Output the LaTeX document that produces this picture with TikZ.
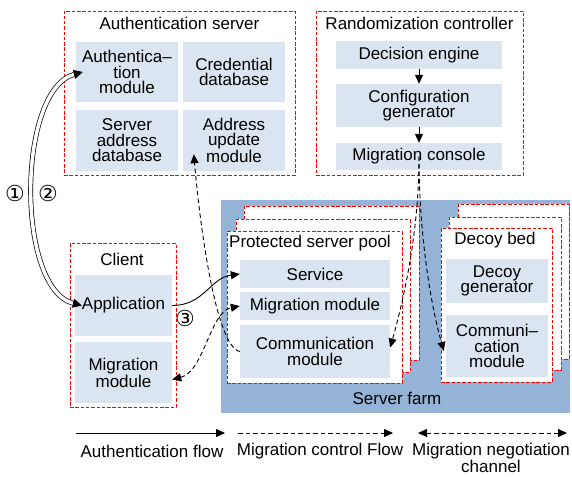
\documentclass[tikz,border=0pt]{standalone}
\usepackage{fontspec}
\setmainfont{Liberation Sans}
\newfontfamily\symfont{DejaVu Sans}
\usetikzlibrary{arrows.meta}
\definecolor{farmblue}{RGB}{149,179,215}
\definecolor{modfill}{RGB}{219,229,241}
\definecolor{grpred}{RGB}{255,0,0}
\begin{document}
\begin{tikzpicture}[x=1pt,y=-1pt,
  txt/.style={font=\fontsize{17}{15.5}\selectfont, align=center, inner sep=0pt},
  grp/.style={draw=grpred, dash pattern=on 3.5pt off 1.8pt, line width=0.9pt, fill=white, inner sep=0pt},
  mod/.style={txt, fill=modfill},
  sym/.style={font=\symfont\fontsize{22}{22}\selectfont, inner sep=0pt},
  tip/.style={-{Triangle[length=9pt,width=8pt]}},
  flow/.style={line width=0.9pt, tip},
  ctl/.style={flow, dash pattern=on 4.5pt off 3pt},
  dbl/.style={double=white, double distance=3.5pt, line width=0.7pt,
    {Triangle[length=9pt,width=9pt]}-{Triangle[length=9pt,width=9pt]}}
]
\useasboundingbox (0,0) rectangle (572,476);

% Authentication server
\node[grp, minimum width=231pt, minimum height=164pt] (authsrv) at (179.5,93) {};
\node[txt] (authsrvt) at (179.5,23) {Authentication server};
\node[mod, minimum width=102pt, minimum height=60pt] (authmod) at (127,72) {Authentica–\\tion\\module};
\node[mod, minimum width=102pt, minimum height=60pt] (creddb) at (234,72) {Credential\\database};
\node[mod, minimum width=102pt, minimum height=61pt] (srvaddr) at (127,140.5) {Server\\address\\database};
\node[mod, minimum width=102pt, minimum height=61pt] (addrupd) at (234,140.5) {Address\\update\\module};

% Randomization controller
\node[grp, minimum width=207pt, minimum height=164pt] (randctl) at (419.5,93) {};
\node[txt] (randctlt) at (419.5,23) {Randomization controller};
\node[mod, minimum width=166pt, minimum height=28pt] (decision) at (419,55) {Decision engine};
\node[mod, minimum width=166pt, minimum height=43pt] (config) at (419,105.5) {Configuration\\generator};
\node[mod, minimum width=166pt, minimum height=27pt] (console) at (419,156.5) {Migration console};
\draw[flow] (decision) -- (config);
\draw[flow] (config) -- (console);

% Server farm
\node[fill=farmblue, inner sep=0pt, minimum width=349pt, minimum height=213pt] (farm) at (395.5,306.5) {};
\node[txt] (farmt) at (397,398) {Server farm};

% Protected server pool
\node[grp, minimum width=175pt, minimum height=154pt] (poolb3) at (331.5,283) {};
\node[grp, minimum width=174pt, minimum height=153pt] (poolb2) at (323,295.5) {};
\node[grp, minimum width=175pt, minimum height=152pt] (pool) at (314.5,307) {};
\node[txt, anchor=west] (poolt) at (229,243) {Protected server pool};
\node[mod, minimum width=150pt, minimum height=28pt] (service) at (315,274) {Service};
\node[mod, minimum width=150pt, minimum height=28pt] (pmig) at (315,306) {Migration module};
\node[mod, minimum width=150pt, minimum height=53pt] (pcomm) at (315,351.5) {Communication\\module};

% Decoy bed
\node[grp, minimum width=111pt, minimum height=155pt] (decoyb3) at (513.5,281.5) {};
\node[grp, minimum width=112pt, minimum height=153pt] (decoyb2) at (505,293.5) {};
\node[grp, minimum width=111pt, minimum height=154pt] (decoy) at (496.5,305) {};
\node[txt] (decoyt) at (495,240) {Decoy bed};
\node[mod, minimum width=102pt, minimum height=44pt] (dgen) at (497,281) {Decoy\\generator};
\node[mod, minimum width=102pt, minimum height=62pt] (dcomm) at (497,346) {Communi–\\cation\\module};

% Client
\node[grp, minimum width=106pt, minimum height=164pt] (client) at (123,325) {};
\node[txt] (clientt) at (122,259) {Client};
\node[mod, minimum width=97pt, minimum height=61pt] (app) at (123.5,305.5) {Application};
\node[mod, minimum width=97pt, minimum height=61pt] (cmig) at (123.5,372.5) {Migration\\module};

% Connectors
\draw[dbl] ([xshift=7pt]app.west) .. controls +(-66,-17) and +(-66,18) .. ([xshift=7pt]authmod.west);
\node[sym] (n1) at (15,193) {①};
\node[sym] (n2) at (48,193) {②};

\draw[flow] (app.east) .. controls +(32,0) and +(-30,4) .. (service.west);
\draw[ctl, {Triangle[length=9pt,width=8pt]}-{Triangle[length=9pt,width=8pt]}]
  ([yshift=-7pt]cmig.east) .. controls +(32,-8) and +(-30,6) .. (pmig.west);
\node[sym] (n3) at (185,318) {③};

\draw[ctl] (pcomm.west) .. controls +(-25,-5) and +(5,60) .. ([xshift=11pt,yshift=17pt]addrupd.south west);

\draw[ctl] (console.center) .. controls +(0,75) and +(14,-50) .. ([yshift=4pt]pcomm.east);
\draw[ctl] (console.center) .. controls +(0,75) and +(-14,-50) .. ([xshift=-2pt,yshift=-5pt]dcomm.west);

% Legend
\coordinate (la1) at (76,433);
\coordinate (la2) at (225,433);
\coordinate (lb1) at (238,433);
\coordinate (lb2) at (393,433);
\coordinate (lc1) at (418,433);
\coordinate (lc2) at (567,433);
\draw[flow] (la1) -- (la2);
\draw[ctl] (lb1) -- (lb2);
\draw[ctl, {Triangle[length=9pt,width=8pt]}-{Triangle[length=9pt,width=8pt]}] (lc1) -- (lc2);
\node[txt] (lat) at (152,451) {Authentication flow};
\node[txt] (lbt) at (320,451) {Migration control Flow};
\node[txt, anchor=north] (lct) at (491,443) {Migration negotiation\\channel};
\end{tikzpicture}
\end{document}
